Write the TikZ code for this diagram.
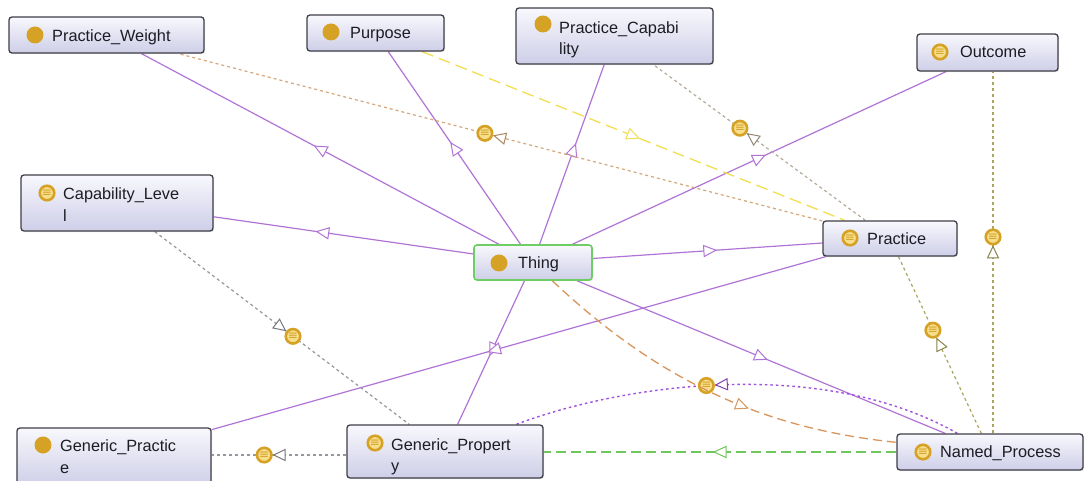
\documentclass[tikz,border=0pt]{standalone}
\usepackage{fontspec}
\setmainfont{Liberation Sans}
\newfontfamily\symfont{DejaVu Sans}
\usetikzlibrary{decorations.markings,shadows}
\pgfdeclarelayer{edges}
\pgfsetlayers{edges,main}

\definecolor{isacol}{RGB}{176,116,214}
\definecolor{goldc}{RGB}{214,162,38}
\definecolor{paleg}{RGB}{246,222,140}
\definecolor{boxline}{RGB}{62,62,72}
\definecolor{boxtop}{RGB}{248,248,253}
\definecolor{boxbot}{RGB}{206,206,232}
\definecolor{thingline}{RGB}{110,205,100}
\definecolor{txtc}{RGB}{28,28,36}
\definecolor{tanc}{RGB}{212,168,122}
\definecolor{graytan}{RGB}{182,170,152}
\definecolor{olivec}{RGB}{170,166,96}
\definecolor{grayc}{RGB}{150,150,158}
\definecolor{yellowc}{RGB}{242,222,82}
\definecolor{orangec}{RGB}{216,150,92}
\definecolor{greenc}{RGB}{112,200,92}
\definecolor{violetc}{RGB}{160,80,222}

\tikzset{
  obox/.style={draw=boxline, line width=1.3pt, rounded corners=3pt,
    top color=boxtop, bottom color=boxbot, inner sep=0pt,
    drop shadow={opacity=0.18, shadow xshift=1.2pt, shadow yshift=-1.2pt}},
  otext/.style={anchor=base west, inner sep=0pt, text=txtc,
    font=\fontsize{16.3}{21.5}\selectfont},
  clsdot/.style={circle, fill=goldc, minimum size=17pt, inner sep=0pt},
  eqv/.style={circle, solid, draw=goldc, fill=paleg, line width=2.6pt,
    minimum size=14.5pt, inner sep=0pt, text=goldc,
    font=\symfont\fontsize{12}{12}\selectfont},
  dots/.style={dash pattern=on 3pt off 3pt},
  % open triangle in the middle of a connector, pointing along it
  tri/.style 2 args={postaction={decorate}, decoration={markings,
    mark=at position #2 with {\draw[#1, solid, line width=1pt, fill=white]
      (6pt,0pt) -- (-6pt,5.5pt) -- (-6pt,-5.5pt) -- cycle;}}},
  isa/.style={draw=isacol, line width=1.2pt, tri={isacol}{#1}},
  isa/.default=0.5,
  % object property: dotted line, property badge and arrow just before it
  rel/.style n args={3}{draw=#1, line width=1.2pt, dots,
    postaction={decorate}, decoration={markings,
    mark=at position #2 with {\draw[#1!80!black, solid, line width=1pt, fill=white]
      (-9.5pt,0pt) -- (-21pt,5.5pt) -- (-21pt,-5.5pt) -- cycle;
      \node[eqv] (#3) {≡};}}},
}

\begin{document}
\begin{tikzpicture}[x=1pt, y=-1pt]
\useasboundingbox (0,0) rectangle (1088,481);

% class boxes
\node[obox, minimum width=195pt, minimum height=36pt] (pw)    at (106.5,35)  {};
\node[obox, minimum width=137pt, minimum height=36pt] (pur)   at (375.5,33)  {};
\node[obox, minimum width=197pt, minimum height=56pt] (pc)    at (614.5,36)  {};
\node[obox, minimum width=141pt, minimum height=37pt] (out)   at (987.5,52.5) {};
\node[obox, minimum width=192pt, minimum height=56pt] (cl)    at (117,203)   {};
\node[obox, draw=thingline, line width=1.6pt, minimum width=118pt, minimum height=35pt] (thing) at (533,262.5) {};
\node[obox, minimum width=134pt, minimum height=35pt] (prac)  at (890,238.5) {};
\node[obox, minimum width=194pt, minimum height=58pt] (gprac) at (114,457)   {};
\node[obox, minimum width=196pt, minimum height=53pt] (gprop) at (445,451.5) {};
\node[obox, minimum width=186pt, minimum height=36pt] (np)    at (990,452)   {};

% icons
\node[clsdot] (pw-i)    at (35,35)   {};
\node[clsdot] (pur-i)   at (331,32)  {};
\node[clsdot] (pc-i)    at (543,24)  {};
\node[eqv]    (out-i)   at (940,52)  {≡};
\node[eqv]    (cl-i)    at (47,193)  {≡};
\node[clsdot] (thing-i) at (499,263) {};
\node[eqv]    (prac-i)  at (850,238) {≡};
\node[clsdot] (gprac-i) at (43,445)  {};
\node[eqv]    (gprop-i) at (375,443) {≡};
\node[eqv]    (np-i)    at (923,452) {≡};

% labels
\node[otext] (pw-t)    at (52,41.5)  {Practice\_Weight};
\node[otext] (pur-t)   at (350,39)   {Purpose};
\node[otext] (pc-t)    at (559,33.3) {\begin{tabular}[t]{@{}l@{}}Practice\_Capabi\\lity\end{tabular}};
\node[otext] (out-t)   at (960,57.5) {Outcome};
\node[otext] (cl-t)    at (63,200)   {\begin{tabular}[t]{@{}l@{}}Capability\_Leve\\l\end{tabular}};
\node[otext] (thing-t) at (518,269)  {Thing};
\node[otext] (prac-t)  at (867,244.5) {Practice};
\node[otext] (gprac-t) at (60,451.5) {\begin{tabular}[t]{@{}l@{}}Generic\_Practic\\e\end{tabular}};
\node[otext] (gprop-t) at (391,450)  {\begin{tabular}[t]{@{}l@{}}Generic\_Propert\\y\end{tabular}};
\node[otext] (np-t)    at (940,457.5) {Named\_Process};

\coordinate (vline) at (993,0);
\coordinate (gline) at (0,455);

\begin{pgfonlayer}{edges}
\fill[white] (0,0) rectangle (1088,481);

% subclass links
\draw[isa]      (thing) -- (pw);
\draw[isa]      (thing) -- (pur);
\draw[isa=0.525] (thing) -- (pc);
\draw[isa]      (thing) -- (out);
\draw[isa=0.58] (thing) -- (cl);
\draw[isa=0.51] (thing) -- (prac);
\draw[isa]      (thing) -- (np);
\draw[isa=0.48] (thing) -- (gprop);
\draw[isa=0.54] (prac) -- (gprac);

% object properties
\draw[rel={tanc}{0.524}{r1}]    (prac) -- (pw);
\draw[rel={graytan}{0.592}{r2}] (prac) -- (pc);
\draw[rel={olivec}{0.543}{r3}]  (np.north -| vline) -- (out.south -| vline);
\draw[rel={olivec}{0.584}{r4}]  (np) -- (prac);
\draw[rel={grayc}{0.543}{r5}]   (cl) -- (gprop);
\draw[rel={grayc}{0.61}{r6}]    (gprop.west |- gline) -- (gprac.east |- gline);
\draw[rel={violetc}{0.571}{r7}, line width=1.4pt, dash pattern=on 2.5pt off 3pt]
  (np) .. controls (820,355) and (620,385) .. (gprop);

% other relations
\draw[draw=yellowc, line width=1.3pt, dash pattern=on 12pt off 6pt, tri={yellowc}{0.5}]
  (pur) -- (prac);
\draw[draw=greenc, line width=1.3pt, dash pattern=on 10pt off 5pt, tri={greenc}{0.5}]
  (np.west) -- (gprop.east |- np.west);
\draw[draw=orangec, line width=1.3pt, dash pattern=on 9pt off 5pt, tri={orangec}{0.59}]
  (thing) .. controls (668,390) and (777,430) .. (np);
\end{pgfonlayer}
\end{tikzpicture}
\end{document}
